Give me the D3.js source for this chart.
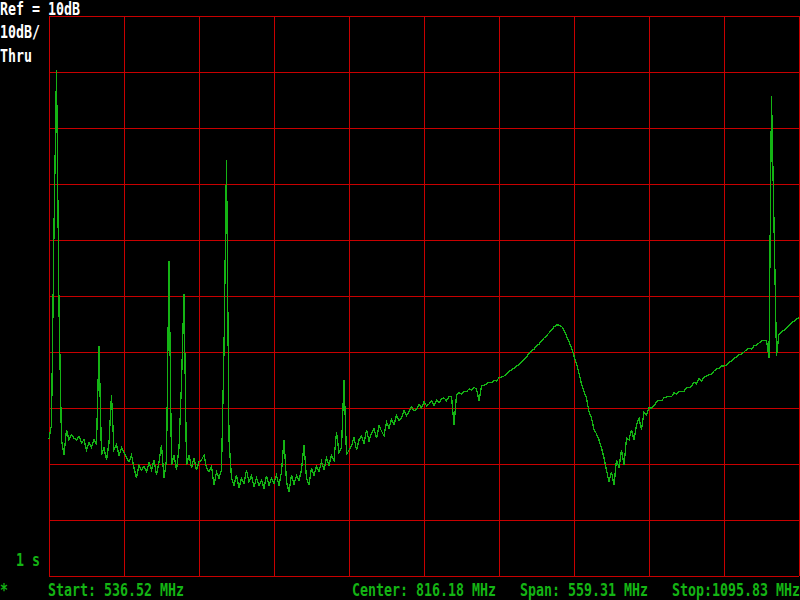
<!DOCTYPE html>
<html><head><meta charset="utf-8">
<script src="https://cdn.jsdelivr.net/npm/d3@7/dist/d3.min.js"></script>
<style>
html,body{margin:0;padding:0;background:#000;}
svg{display:block;}
text{font-family:"DejaVu Sans Mono",monospace;font-weight:bold;font-size:13.3px;}
</style></head>
<body>
<script>
// Spectrum analyzer settings
const startMHz = 536.52;
const stopMHz = 1095.83;
const centerMHz = 816.18;
const spanMHz = 559.31;
const refLevel = 10;      // dB, top of screen
const dbPerDiv = 10;
const numDivs = 10;
const sweepTime = "1 s";

// Header / footer labels
const headerLabels = ["Ref = 10dB", "10dB/", "Thru"];
const footerLabels = ["*", "Start: 536.52 MHz", "Center: 816.18 MHz", "Span: 559.31 MHz", "Stop:1095.83 MHz"];

// Trace levels (dB), 301 points across the span
const traceDb = [
-65.5,-63.0,-28.0,0.3,-42.1,-65.7,-68.4,-63.9,-65.7,-64.8,
-65.4,-65.7,-65.0,-66.2,-65.7,-67.5,-66.1,-67.0,-65.7,-66.6,
-48.9,-68.4,-67.1,-69.3,-66.2,-57.7,-67.5,-66.6,-68.4,-67.1,
-67.9,-68.9,-69.6,-68.4,-70.7,-72.5,-70.2,-71.1,-70.4,-71.4,
-69.8,-71.1,-69.3,-72.0,-69.6,-66.6,-72.5,-69.3,-33.8,-70.2,
-68.4,-71.1,-67.1,-55.5,-39.6,-70.2,-68.4,-70.7,-68.9,-71.1,
-69.6,-69.3,-68.4,-70.7,-71.4,-70.4,-73.8,-71.4,-72.5,-71.1,
-49.5,-15.7,-65.7,-72.5,-73.8,-72.0,-74.3,-72.5,-73.4,-71.1,
-73.2,-72.1,-74.1,-72.5,-73.8,-72.9,-74.3,-72.1,-73.8,-72.5,
-73.4,-72.0,-73.9,-71.4,-65.7,-73.2,-75.0,-72.0,-73.6,-72.1,
-72.9,-71.1,-66.6,-72.5,-73.8,-70.7,-72.0,-70.4,-71.4,-69.6,
-71.1,-68.9,-70.2,-68.4,-69.3,-64.3,-67.9,-67.1,-55.0,-68.4,
-67.5,-66.8,-65.2,-67.5,-65.7,-65.0,-66.4,-63.9,-65.9,-64.5,
-63.6,-65.4,-63.2,-64.1,-65.0,-62.5,-63.6,-62.0,-63.0,-61.3,
-62.3,-61.8,-60.4,-61.4,-60.7,-59.8,-60.5,-60.2,-59.3,-60.0,
-58.9,-59.6,-59.3,-58.7,-59.5,-58.6,-59.1,-58.4,-58.2,-58.7,
-58.0,-57.9,-63.0,-57.7,-57.3,-57.5,-57.0,-57.1,-56.6,-56.8,
-56.3,-56.6,-58.7,-56.1,-55.9,-55.7,-55.4,-55.5,-55.0,-55.2,
-54.6,-54.5,-54.3,-53.9,-53.4,-53.2,-52.9,-52.5,-52.3,-51.8,
-51.4,-50.9,-50.2,-49.8,-49.5,-48.9,-48.6,-48.0,-47.5,-47.1,
-46.6,-46.1,-45.5,-45.2,-45.2,-45.4,-46.1,-47.1,-48.2,-49.3,
-50.7,-52.1,-53.8,-55.7,-57.1,-58.2,-60.7,-61.8,-63.9,-64.6,
-65.7,-67.1,-68.9,-71.1,-73.2,-71.4,-73.8,-69.3,-70.7,-67.5,
-70.2,-65.4,-65.7,-63.9,-65.7,-63.0,-61.8,-63.9,-60.7,-61.3,
-60.0,-60.0,-59.6,-58.9,-58.6,-58.7,-58.2,-58.0,-57.9,-58.0,
-57.3,-57.5,-57.1,-57.0,-57.0,-56.4,-56.4,-56.1,-55.4,-55.7,
-54.8,-55.2,-54.5,-54.3,-54.1,-53.9,-53.4,-53.0,-52.9,-52.5,
-52.5,-52.3,-51.8,-51.6,-51.1,-50.9,-50.5,-50.4,-50.0,-49.6,
-49.3,-49.5,-48.9,-48.8,-48.4,-48.0,-48.0,-47.9,-51.1,-4.3,
-27.1,-50.7,-46.8,-46.4,-46.1,-45.7,-45.2,-44.8,-44.5,-44.1,
-43.9
];

const W = 800, H = 600;
const plot = {left: 49, right: 799, top: 16, bottom: 576};
const gridColor = "#c80000";
const traceColor = "#14b414";
const textGreen = "#14b414";

const svg = d3.select("body").append("svg").attr("width", W).attr("height", H)
  .style("background", "#000");

const x = d3.scaleLinear().domain([startMHz, stopMHz]).range([plot.left, plot.right]);
const y = d3.scaleLinear().domain([refLevel - dbPerDiv * numDivs, refLevel]).range([plot.bottom, plot.top]);
const n = traceDb.length;
const freqs = d3.range(n).map(i => startMHz + (stopMHz - startMHz) * i / (n - 1));

const xTicks = d3.range(numDivs + 1).map(i => startMHz + spanMHz * i / numDivs);
const yTicks = d3.range(numDivs + 1).map(i => refLevel - dbPerDiv * i);

const gx = svg.append("g").attr("transform", `translate(0,${plot.bottom})`)
  .call(d3.axisBottom(x).tickValues(xTicks).tickSize(-(plot.bottom - plot.top)).tickFormat("").tickSizeOuter(0));
const gy = svg.append("g").attr("transform", `translate(${plot.left},0)`)
  .call(d3.axisLeft(y).tickValues(yTicks).tickSize(-(plot.right - plot.left)).tickFormat("").tickSizeOuter(0));
[gx, gy].forEach(g => {
  g.select(".domain").remove();
  g.selectAll(".tick line").attr("stroke", gridColor).attr("stroke-width", 1).attr("shape-rendering", "crispEdges");
});

const line = d3.line().x((d, i) => x(freqs[i])).y(d => y(d));
svg.append("path").datum(traceDb)
  .attr("d", line).attr("fill", "none").attr("stroke", traceColor)
  .attr("stroke-width", 1.3).attr("stroke-linejoin", "miter")
  .attr("shape-rendering", "crispEdges");

function label(txt, px, py, color) {
  svg.append("text").attr("transform", `translate(${px},${py}) scale(1,1.3)`)
    .attr("fill", color).text(txt);
}
label(headerLabels[0], 0, 14.5, "#ffffff");
label(headerLabels[1], 0, 38, "#ffffff");
label(headerLabels[2], 0, 62, "#ffffff");
label(sweepTime, 16, 566, textGreen);
label(footerLabels[0], 0, 596, textGreen);
label(footerLabels[1], 48, 596, textGreen);
label(footerLabels[2], 352, 596, textGreen);
label(footerLabels[3], 520, 596, textGreen);
label(footerLabels[4], 672, 596, textGreen);
</script>
</body></html>
